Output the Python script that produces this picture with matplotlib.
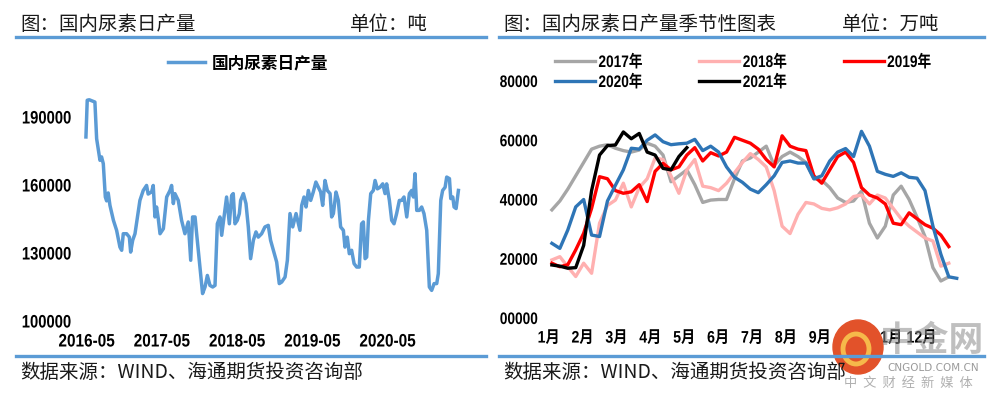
import matplotlib
matplotlib.use("Agg")
import matplotlib.pyplot as plt
from matplotlib.lines import Line2D
from matplotlib.patches import Ellipse
from matplotlib.patheffects import AbstractPathEffect
from matplotlib.transforms import Affine2D
import numpy as np

plt.rcParams['font.family'] = ['Noto Sans CJK SC', 'DejaVu Sans']
NUM_FAMILY = ['Liberation Sans', 'Noto Sans CJK SC']


class Narrow(AbstractPathEffect):
    """squeeze text horizontally (no Arial Narrow installed)"""

    def __init__(self, k=0.82, anchor='left'):
        super().__init__()
        self.k = k
        self.anchor = anchor

    def draw_path(self, renderer, gc, tpath, affine, rgbFace=None):
        ext = tpath.get_extents()
        x0 = {'left': ext.x0, 'right': ext.x1, 'center': (ext.x0 + ext.x1) / 2}[self.anchor]
        t = Affine2D().translate(-x0, 0).scale(self.k, 1).translate(x0, 0) + affine
        renderer.draw_path(gc, tpath, t, rgbFace)


# ---- left chart: daily urea output (tons), x = weeks since 2016-05 ----
left_weeks = [
    0, 0.9, 2.3, 6.2, 7.4, 9.7, 10.8, 12.0, 13.4, 14.3,
    15.4, 16.6, 19.0, 21.2, 23.5, 24.7, 25.8, 28.1, 30.0, 30.9,
    32.3, 33.9, 37.3, 39.6, 41.9, 43.0, 45.4, 46.5, 47.7, 48.8,
    50.0, 51.2, 53.5, 55.8, 58.1, 59.2, 60.4, 61.5, 63.8, 66.1,
    68.4, 70.7, 72.4, 73.7, 75.4, 76.5, 78.8, 80.6, 82.3, 83.9,
    85.7, 87.6, 89.2, 90.8, 92.6, 93.8, 95.4, 97.2, 99.1, 100.7,
    101.8, 103.0, 104.6, 106.0, 106.9, 108.8, 110.6, 112.2, 113.8, 115.7,
    117.5, 119.1, 121.4, 123.7, 126.0, 127.6, 129.5, 131.8, 133.6, 135.3,
    137.6, 139.2, 141.0, 142.9, 145.2, 146.8, 147.9, 149.1, 150.7, 152.1,
    153.7, 155.3, 157.1, 158.9, 160.6, 162.2, 163.6, 165.2, 166.8, 168.7,
    169.8, 171.0, 172.8, 174.4, 176.0, 177.9, 179.0, 180.6, 182.0, 183.6,
    185.3, 187.1, 188.9, 190.5, 191.7, 192.9, 194.0, 195.2, 196.8, 198.6,
    199.8, 201.4, 203.2, 205.1, 206.7, 207.8, 209.7, 211.3, 212.9, 214.7,
    216.6, 218.2, 219.8, 221.7, 223.5, 225.1, 226.3, 227.4, 228.6, 230.4,
    232.0, 233.6, 235.5, 237.3, 238.9, 240.6, 242.4, 243.5, 245.2, 246.5,
    248.2, 249.3, 251.2, 252.1, 253.5, 254.4, 255.8, 257.4,
]
left_output = [
    181200, 197400, 197600, 196600, 180400, 170900, 172400, 169400, 154700, 153000,
    156500, 151000, 144400, 140000, 132600, 131200, 138500, 138500, 137000, 130400,
    135600, 138500, 153200, 157600, 159800, 156000, 157000, 159800, 145900, 150300,
    145100, 138500, 140700, 154700, 157600, 159800, 151800, 156200, 153200, 144400,
    138500, 143700, 126800, 145900, 145900, 138500, 123800, 112100, 115000, 120100,
    115700, 115000, 115700, 142900, 145900, 137800, 145900, 154700, 142900, 155400,
    156200, 142900, 144400, 147400, 153200, 156200, 151800, 141500, 127500, 135600,
    139300, 137000, 138500, 141500, 142200, 135600, 131200, 126000, 116500, 117200,
    119400, 126800, 147400, 141500, 147400, 142900, 140000, 151000, 154700, 150300,
    157600, 153200, 156900, 161300, 159000, 156900, 151000, 162000, 157600, 156200,
    145900, 147400, 156900, 153200, 141500, 140000, 132600, 137000, 129700, 131200,
    125300, 123800, 123800, 142900, 143700, 127500, 128200, 144400, 156200, 157600,
    162000, 158300, 159000, 160500, 156200, 160500, 153200, 144400, 142900, 147400,
    153200, 153200, 154700, 145900, 156200, 157600, 154700, 165000, 148800, 148800,
    150300, 147400, 140000, 115000, 113500, 116500, 116500, 120900, 153200, 157600,
    159000, 163500, 162800, 154000, 154700, 150300, 149600, 157600,
]
left_xlabels = ['2016-05', '2017-05', '2018-05', '2019-05', '2020-05']
left_yticks = [100000, 130000, 160000, 190000]

# ---- right chart: weekly seasonal series ----
month_labels = ['1月', '2月', '3月', '4月', '5月', '6月',
                '7月', '8月', '9月', '10月', '11月', '12月']
s2017 = [36500, 39500, 43500, 48000, 52500, 57000, 58000, 58500, 57300, 56500,
         56000, 56700, 59000, 58000, 55000, 46000, 48000, 50000, 45000, 39000,
         39800, 40000, 40000, 47000, 53000, 54000, 56000, 58000, 51500, 54500,
         56000, 54500, 52500, 47000, 46500, 44000, 40500, 39000, 39500, 42800,
         32000, 27000, 31000, 41500, 44500, 40000, 34000, 27500, 17000, 12500,
         13900]
s2018 = [19600, 20700, 17300, 14000, 18500, 15100, 32000, 38000, 39800, 45500,
         37500, 44000, 47000, 54000, 53500, 48000, 42100, 50000, 53500, 44500,
         44000, 43000, 45500, 49000, 52500, 55500, 53500, 51000, 43000, 31000,
         28500, 35000, 39000, 38500, 37000, 36500, 37200, 38500, 41000, 41500,
         38500, 41500, 40500, 37000, 33500, 31000, 29000, 27000, 26000, 17500,
         18500]
s2019 = [18500, 17300, 18000, 23000, 28600, 37000, 47700, 47000, 43000, 42100,
         42600, 45000, 39300, 49500, 52200, 50000, 51000, 55000, 57500, 53000,
         55800, 54700, 56000, 61000, 60000, 59000, 57000, 53500, 51000, 61500,
         58000, 57000, 56500, 48000, 45500, 50000, 54500, 56000, 52500, 44000,
         41500, 40500, 38500, 32000, 31500, 35500, 33500, 31500, 30300, 28000,
         24100]
s2020 = [25200, 23500, 29700, 37500, 40000, 28000, 27500, 39500, 44800, 50000,
         57300, 57000, 60000, 61800, 59500, 58500, 58800, 59000, 60300, 56500,
         58000, 56000, 51000, 47500, 45800, 43500, 42300, 45000, 48000, 52500,
         53000, 52300, 52300, 47000, 48000, 53000, 56000, 57200, 54500, 63000,
         58000, 49500, 48500, 47800, 49000, 47500, 47200, 43000, 31000, 21500,
         13900, 13400]
s2021 = [17900, 17500, 16800, 17000, 24500, 43000, 55000, 58200, 58400, 62800,
         60500, 62300, 56000, 55000, 50500, 50000, 54500, 57500]
right_yticks = [0, 20000, 40000, 60000, 80000]
right_ylabels = ['00000', '20000', '40000', '60000', '80000']

W, H = 994, 400
fig = plt.figure(figsize=(W / 100, H / 100), dpi=100)
fig.patch.set_facecolor('white')


def fx(px):
    return px / W


def fy(py):
    return 1 - py / H


# header / footer texts and blue rules
for x0, x1, title, ux, unit in [(16, 486, '图：国内尿素日产量', 350, '单位：吨'),
                                (499, 984, '图：国内尿素日产量季节性图表', 842, '单位：万吨')]:
    fig.text(fx(x0 + 4), fy(24), title, fontsize=14, color='#1a1a1a', va='center')
    fig.text(fx(ux), fy(24), unit, fontsize=14, color='#1a1a1a', va='center')
    fig.add_artist(Line2D([fx(x0), fx(x1)], [fy(37), fy(37)], color='#5B9BD5', lw=2.4))
    fig.add_artist(Line2D([fx(x0), fx(x1)], [fy(356), fy(356)], color='#5B9BD5', lw=2.4))
    fig.text(fx(x0 + 4), fy(373), '数据来源：WIND、海通期货投资咨询部', fontsize=14,
             color='#1a1a1a', va='center')


def style_ticks(ax, size):
    for s in ax.spines.values():
        s.set_visible(False)
    ax.tick_params(length=0, labelsize=size)
    for lab in ax.get_yticklabels():
        lab.set_family(NUM_FAMILY)
        lab.set_fontweight('bold')
        lab.set_path_effects([Narrow(0.82, 'right')])
    for lab in ax.get_xticklabels():
        lab.set_family(NUM_FAMILY)
        lab.set_fontweight('bold')
        lab.set_path_effects([Narrow(0.85, 'center')])


# ---- left axes ----
ax1 = fig.add_axes([fx(80), fy(321), fx(390), 272 / H])
ax1.plot(left_weeks, left_output, color='#5B9BD5', lw=2.5, label='国内尿素日产量')
ax1.set_xlim(-4.1, 265.4)
ax1.set_ylim(100000, 220000)
ax1.set_yticks(left_yticks)
ax1.set_yticklabels([str(v) for v in left_yticks])
ax1.set_xticks([0.5 + 52.0 * i for i in range(len(left_xlabels))])
ax1.set_xticklabels(left_xlabels)
style_ticks(ax1, 13)
ax1.tick_params(axis='y', pad=6)
ax1.tick_params(axis='x', pad=9)
ax1.legend(loc='center left', bbox_to_anchor=(fx(168), fy(63)),
           bbox_transform=fig.transFigure, frameon=False, borderpad=0,
           borderaxespad=0, handlelength=2.2, handletextpad=0.4,
           prop={'size': 12, 'weight': 'bold'})

# ---- right axes ----
ax2 = fig.add_axes([fx(540), fy(318), fx(435), 296.25 / H])
colors = {'2017年': '#A6A6A6', '2018年': '#FFB0B0', '2019年': '#FF0000',
          '2020年': '#2E75B6', '2021年': '#000000'}
series = {'2017年': s2017, '2018年': s2018, '2019年': s2019,
          '2020年': s2020, '2021年': s2021}
lines = {}
for name, vals in series.items():
    lines[name], = ax2.plot(np.arange(len(vals)), vals, color=colors[name],
                            lw=2.4, label=name)
ax2.set_xlim(-1.5, 53.3)
ax2.set_ylim(0, 100000)
ax2.set_yticks(right_yticks)
ax2.set_yticklabels(right_ylabels)
ax2.set_xticks(np.arange(12) * 4.27 - 0.4)
ax2.set_xticklabels(month_labels)
style_ticks(ax2, 12)
ax2.tick_params(axis='y', pad=2)
ax2.tick_params(axis='x', pad=9)
order = ['2017年', '2020年', '2018年', '2021年', '2019年']
leg2 = ax2.legend([lines[k] for k in order], order, ncol=3, loc='upper left',
                  bbox_to_anchor=(fx(555), fy(55)), bbox_transform=fig.transFigure,
                  frameon=False, borderpad=0, borderaxespad=0, handlelength=2.4,
                  handletextpad=0.2, columnspacing=2.85, labelspacing=0.3,
                  prop={'family': NUM_FAMILY, 'size': 12, 'weight': 'bold'})
for t in leg2.get_texts():
    t.set_path_effects([Narrow(0.82, 'left')])

# ---- site watermark (bottom right) ----
fig.text(fx(932), fy(340), '中金网', fontsize=25, color='#8c8c8c', alpha=0.55,
         ha='center', va='center', fontweight='bold')
fig.text(fx(933), fy(368), 'CNGOLD.COM.CN', fontsize=7.5, color='#9a9a9a',
         ha='center', va='center', family=['DejaVu Sans'])
fig.text(fx(908), fy(383), '中  文  财  经  新  媒  体', fontsize=9.5, color='#b0b0b0',
         ha='center', va='center')
fig.add_artist(Ellipse((fx(858), fy(347)), fx(50), 54 / H, color='#E2522A',
                       transform=fig.transFigure))
fig.add_artist(Ellipse((fx(856), fy(349)), fx(26), 30 / H, facecolor='none',
                       edgecolor='#F6B94A', lw=3.5, transform=fig.transFigure))

fig.savefig('out.png', dpi=100, facecolor='white')
